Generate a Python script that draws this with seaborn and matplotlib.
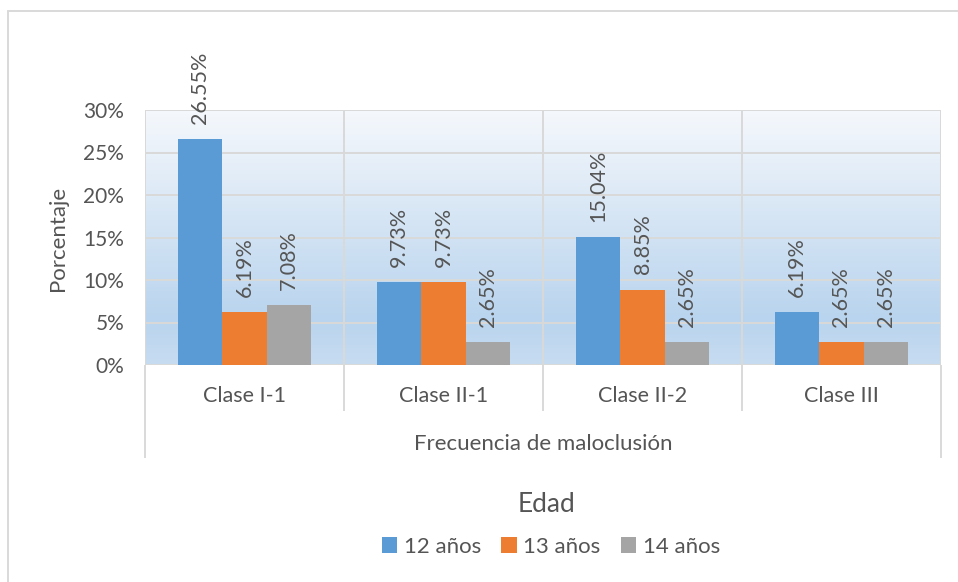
import matplotlib
matplotlib.use("Agg")
import matplotlib.pyplot as plt
from matplotlib.colors import LinearSegmentedColormap
from matplotlib.lines import Line2D
import matplotlib.transforms as mtransforms
import numpy as np
import pandas as pd
import seaborn as sns

CLASES = ["Clase I-1", "Clase II-1", "Clase II-2", "Clase III"]
EDADES = ["12 años", "13 años", "14 años"]
PCT_12 = [26.55, 9.73, 15.04, 6.19]
PCT_13 = [6.19, 9.73, 8.85, 2.65]
PCT_14 = [7.08, 2.65, 2.65, 2.65]
Y_TICKS = [0, 5, 10, 15, 20, 25, 30]

COLORS = ["#5B9BD5", "#ED7D31", "#A5A5A5"]
GRID = "#D9D9D9"
TXT = "#555555"

sns.set_style("white")
plt.rcParams["font.family"] = ["Lato", "DejaVu Sans"]

rows = []
for edad, vals in zip(EDADES, [PCT_12, PCT_13, PCT_14]):
    for clase, v in zip(CLASES, vals):
        rows.append({"clase": clase, "edad": edad, "pct": v})
df = pd.DataFrame(rows)

W, H = 958, 582
fig = plt.figure(figsize=(W / 100, H / 100), dpi=100)
ax = fig.add_axes([145 / W, 1 - 365 / H, (941 - 145) / W, (365 - 110) / H])

# gradient plot area
grad = LinearSegmentedColormap.from_list(
    "bg", [(0.0, "#C7DCF1"), (0.18, "#B9D4EE"), (1.0, "#F5F8FC")])
ax.imshow(np.linspace(0, 1, 256).reshape(-1, 1), cmap=grad, origin="lower",
          aspect="auto", extent=(0, 1, 0, 1), transform=ax.transAxes, zorder=0)

sns.barplot(data=df, x="clase", y="pct", hue="edad", order=CLASES,
            hue_order=EDADES, palette=COLORS, saturation=1, width=0.667,
            edgecolor="none", linewidth=0, ax=ax, zorder=3)

ax.set_xlim(-0.5, len(CLASES) - 0.5)
ax.set_ylim(0, 30)
ax.set_yticks(Y_TICKS)
ax.set_yticklabels([f"{t}%" for t in Y_TICKS])
ax.set_xlabel("")
ax.set_ylabel("")

for t in Y_TICKS:
    ax.axhline(t, color=GRID, lw=1.4, zorder=1)
bounds = np.arange(len(CLASES) + 1) - 0.5
ax.vlines(bounds, 0, 30, color=GRID, lw=1.4, zorder=1)

for s in ax.spines.values():
    s.set_visible(False)

ax.tick_params(axis="y", length=0, pad=15, labelsize=15, labelcolor=TXT)
ax.tick_params(axis="x", length=4, width=1.4, color=GRID, pad=11,
               labelsize=15.5, labelcolor=TXT)

# category separators below the axis
trans = mtransforms.blended_transform_factory(ax.transData, ax.transAxes)
ax.vlines(bounds[1:-1], -0.18, 0, color=GRID, lw=1.4, transform=trans, clip_on=False)
ax.vlines(bounds[[0, -1]], -0.365, 0, color=GRID, lw=1.4, transform=trans, clip_on=False)

for cont in ax.containers:
    ax.bar_label(cont, labels=[f"{v:.2f}%" for v in cont.datavalues],
                 rotation=90, padding=11, fontsize=15.5, color=TXT)

handles, labels = ax.get_legend_handles_labels()
if ax.get_legend() is not None:
    ax.get_legend().remove()
fig.legend(handles, labels, loc="center", bbox_to_anchor=(551 / W, 1 - 547 / H),
           ncol=3, frameon=False, handlelength=0.7, handleheight=0.7,
           handletextpad=0.3, columnspacing=0.9, fontsize=16, labelcolor=TXT)

fig.text(58 / W, 1 - 238 / H, "Porcentaje", rotation=90, ha="center",
         va="center", fontsize=16, color=TXT)
fig.text(543 / W, 1 - 450 / H, "Frecuencia de maloclusión", ha="center",
         va="baseline", fontsize=16, color=TXT)
fig.text(546 / W, 1 - 512 / H, "Edad", ha="center", va="baseline",
         fontsize=19, color=TXT)

# chart border (cropped at right and bottom)
fig.add_artist(Line2D([8 / W, 8 / W], [0, 1 - 11 / H], color=GRID, lw=1.4,
                      transform=fig.transFigure))
fig.add_artist(Line2D([8 / W, 1], [1 - 11 / H, 1 - 11 / H], color=GRID, lw=1.4,
                      transform=fig.transFigure))

fig.savefig("out.png", dpi=100)
